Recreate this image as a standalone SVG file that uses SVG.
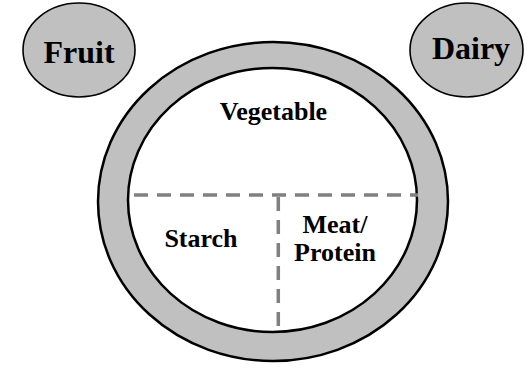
<svg xmlns="http://www.w3.org/2000/svg" width="527" height="368" viewBox="0 0 527 368">
  <style>
    .bubble { fill: #c0c0c0; stroke: #000; stroke-width: 1.6; }
    .ring { fill: #c0c0c0; stroke: #000; stroke-width: 2.5; }
    .inner { fill: #ffffff; stroke: #000; stroke-width: 2.5; }
    .big { font-family: "Liberation Serif", "Times New Roman", serif; font-weight: bold; font-size: 32px; fill: #000; text-anchor: middle; }
    .lbl { font-family: "Liberation Serif", "Times New Roman", serif; font-weight: bold; font-size: 26px; fill: #000; text-anchor: middle; }
    .divider { fill: none; stroke: #808080; stroke-width: 3.5; stroke-dasharray: 14 9; }
  </style>
  <rect width="527" height="368" fill="#ffffff"/>
  <g id="fruit">
    <ellipse class="bubble" cx="79" cy="50" rx="56" ry="47"/>
    <text class="big" x="79" y="63">Fruit</text>
  </g>
  <g id="dairy">
    <ellipse class="bubble" cx="466.5" cy="50" rx="56.5" ry="47"/>
    <text class="big" x="471" y="59">Dairy</text>
  </g>
  <g id="plate">
    <ellipse class="ring" cx="273" cy="201.5" rx="175" ry="159.5"/>
    <ellipse class="inner" cx="272.5" cy="200" rx="144.5" ry="132"/>
  </g>
  <g id="connectors">
    <line class="divider" x1="134" y1="195" x2="418" y2="195"/>
    <line class="divider" x1="278.3" y1="197" x2="278.3" y2="332"/>
  </g>
  <g id="vegetable">
    <text class="lbl" x="273.5" y="120">Vegetable</text>
  </g>
  <g id="starch">
    <text class="lbl" x="201" y="247">Starch</text>
  </g>
  <g id="meat">
    <text class="lbl" x="335" y="233">Meat/</text>
    <text class="lbl" x="335" y="261">Protein</text>
  </g>
</svg>
